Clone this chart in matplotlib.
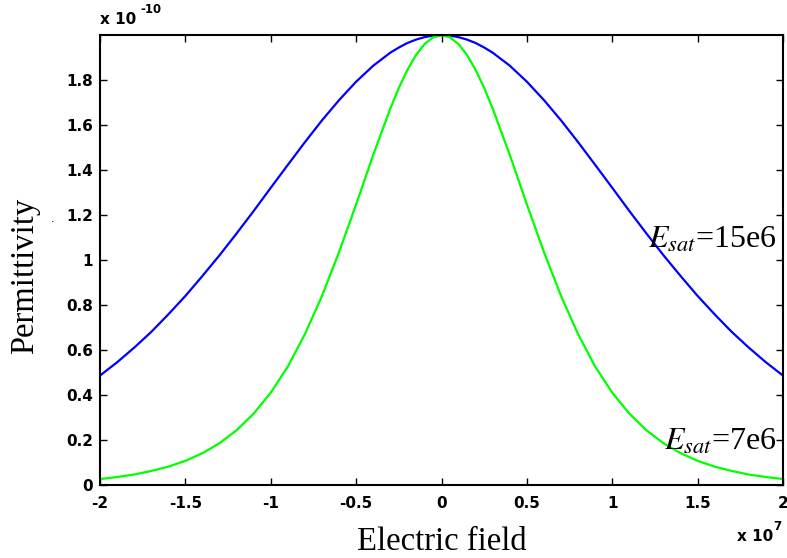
import numpy as np
import matplotlib
matplotlib.use('Agg')
import matplotlib.pyplot as plt

# ── Data (x in units of 1e7 V/m, permittivity in units of 1e-10) ──
field = [-2.0, -1.9, -1.8, -1.7, -1.6, -1.5, -1.4, -1.3, -1.2, -1.1, -1.0,
         -0.9, -0.8, -0.7, -0.6, -0.5, -0.4, -0.3, -0.25, -0.2, -0.15, -0.1, -0.05, 0.0,
         0.05, 0.1, 0.15, 0.2, 0.25, 0.3, 0.4, 0.5, 0.6, 0.7, 0.8, 0.9, 1.0,
         1.1, 1.2, 1.3, 1.4, 1.5, 1.6, 1.7, 1.8, 1.9, 2.0]

perm_15e6 = [0.486, 0.545, 0.610, 0.680, 0.758, 0.840, 0.929, 1.021, 1.118, 1.218, 1.321,
             1.423, 1.524, 1.621, 1.711, 1.793, 1.864, 1.922, 1.945, 1.965, 1.980, 1.991, 1.998, 2.000,
             1.998, 1.991, 1.980, 1.965, 1.945, 1.922, 1.864, 1.793, 1.711, 1.621, 1.524, 1.423, 1.321,
             1.218, 1.118, 1.021, 0.929, 0.840, 0.758, 0.680, 0.610, 0.545, 0.486]

perm_7e6 = [0.026, 0.035, 0.046, 0.062, 0.081, 0.107, 0.141, 0.185, 0.243, 0.317, 0.410,
            0.526, 0.670, 0.840, 1.035, 1.247, 1.467, 1.673, 1.765, 1.845, 1.911, 1.960, 1.990, 2.000,
            1.990, 1.960, 1.911, 1.845, 1.765, 1.673, 1.467, 1.247, 1.035, 0.840, 0.670, 0.526, 0.410,
            0.317, 0.243, 0.185, 0.141, 0.107, 0.081, 0.062, 0.046, 0.035, 0.026]

x_ticks = [-2, -1.5, -1, -0.5, 0, 0.5, 1, 1.5, 2]
x_tick_labels = ['-2', '-1.5', '-1', '-0.5', '0', '0.5', '1', '1.5', '2']
y_ticks = [0, 0.2, 0.4, 0.6, 0.8, 1.0, 1.2, 1.4, 1.6, 1.8]
y_tick_labels = ['0', '0.2', '0.4', '0.6', '0.8', '1', '1.2', '1.4', '1.6', '1.8']

plt.rcParams['mathtext.fontset'] = 'stix'

fig = plt.figure(figsize=(7.87, 5.58), dpi=100)
ax = fig.add_axes([0.127, 0.131, 0.868, 0.806])

ax.plot(field, perm_15e6, color='#0000ff', lw=1.6)
ax.plot(field, perm_7e6, color='#00ff00', lw=1.6)

ax.set_xlim(-2, 2)
ax.set_ylim(0, 2)
ax.set_xticks(x_ticks)
ax.set_xticklabels(x_tick_labels)
ax.set_yticks(y_ticks)
ax.set_yticklabels(y_tick_labels)

for lab in ax.get_xticklabels() + ax.get_yticklabels():
    lab.set_fontfamily('DejaVu Sans')
    lab.set_fontsize(11)
    lab.set_fontweight('bold')

ax.tick_params(direction='in', length=5, width=1, top=True, right=True)
ax.tick_params(axis='x', pad=8)
ax.tick_params(axis='y', pad=5)
for s in ax.spines.values():
    s.set_linewidth(1.5)

# ── Labels ────────────────────────────────────────────────
ax.set_xlabel('Electric field', family='Liberation Serif', size=23.5)
ax.xaxis.set_label_coords(0.5, -0.093)
ax.set_ylabel('Permittivity', family='Liberation Serif', size=23.5)
ax.yaxis.set_label_coords(-0.087, 0.464)

# exponent labels, MATLAB style (base + raised exponent)
expo = dict(family='DejaVu Sans', weight='bold', ha='left', va='baseline')
fig.text(0.127, 0.957, 'x 10', size=11, **expo)
fig.text(0.178, 0.977, '-10', size=8.5, **expo)
fig.text(0.936, 0.030, 'x 10', size=11, **expo)
fig.text(0.982, 0.050, '7', size=8.5, **expo)
fig.text(0.065, 0.603, '.', family='Liberation Sans', size=9)

ax.text(1.96, 1.09, r'$E_{sat}$=15e6', family='Liberation Serif', size=23,
        ha='right', va='center')
ax.text(1.96, 0.19, r'$E_{sat}$=7e6', family='Liberation Serif', size=23,
        ha='right', va='center')

plt.savefig('out.png', dpi=100)
plt.close()
